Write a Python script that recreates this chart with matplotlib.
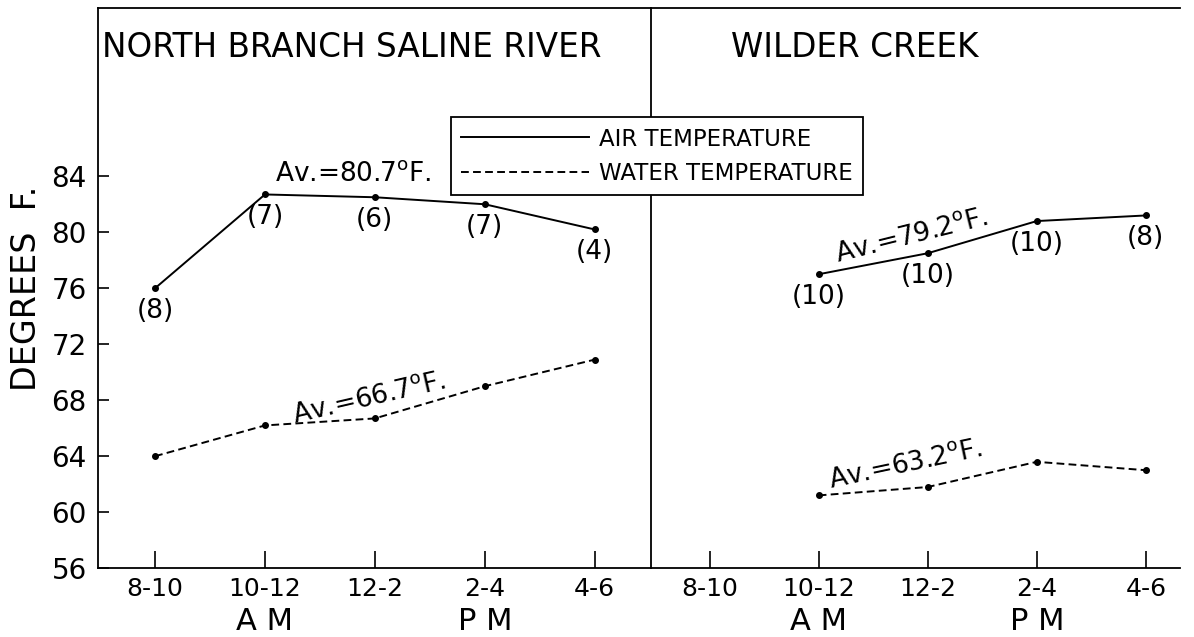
import matplotlib
matplotlib.use("Agg")
from matplotlib import pyplot as plt
from matplotlib.lines import Line2D

periods = ["8-10", "10-12", "12-2", "2-4", "4-6"]
halves = [(1, "A M"), (3, "P M")]

north_air = [76.0, 82.7, 82.5, 82.0, 80.2]
north_water = [64.0, 66.2, 66.7, 69.0, 70.9]
north_counts = ["(8)", "(7)", "(6)", "(7)", "(4)"]

wilder_x = [1, 2, 3, 4]
wilder_air = [77.0, 78.5, 80.8, 81.2]
wilder_water = [61.2, 61.8, 63.6, 63.0]
wilder_counts = ["(10)", "(10)", "(10)", "(8)"]

plt.rcParams['font.family'] = ['DejaVu Sans']
plt.rcParams['mathtext.default'] = 'regular'

fig = plt.figure(figsize=(11.94, 6.37), dpi=100)
ax1 = fig.add_axes([0.082, 0.108, 0.463, 0.879])
ax2 = fig.add_axes([0.545, 0.108, 0.443, 0.879])

water_style = dict(color="black", lw=1.4, ls=(0, (4, 2.2)), marker="o", ms=4)
air_style = dict(color="black", lw=1.4, ls="-", marker="o", ms=4)

ax1.plot(range(5), north_air, **air_style)
ax1.plot(range(5), north_water, **water_style)
ax2.plot(wilder_x, wilder_air, **air_style)
ax2.plot(wilder_x, wilder_water, **water_style)

# counts under the air points
for i, (v, c) in enumerate(zip(north_air, north_counts)):
    ax1.annotate(c, (i, v), xytext=(0, -7), textcoords="offset points",
                 ha="center", va="top", fontsize=19)
for x, v, c in zip(wilder_x, wilder_air, wilder_counts):
    ax2.annotate(c, (x, v), xytext=(0, -7), textcoords="offset points",
                 ha="center", va="top", fontsize=19)

deg = r"$^{o}$"
ax1.text(1.8, 83.2, "Av.=80.7" + deg + "F.", fontsize=19, ha="center", va="bottom")
ax1.text(1.95, 68.1, "Av.=66.7" + deg + "F.", fontsize=19, ha="center", va="center",
         rotation=13)
ax2.text(1.85, 79.7, "Av.=79.2" + deg + "F.", fontsize=19, ha="center", va="center",
         rotation=14)
ax2.text(1.8, 63.4, "Av.=63.2" + deg + "F.", fontsize=19, ha="center", va="center",
         rotation=12)

for ax in (ax1, ax2):
    ax.set_ylim(56, 96)
    ax.set_xticks(range(5))
    ax.set_xticklabels(periods, fontsize=18)
    ax.tick_params(axis="x", direction="in", length=12, width=1.2, pad=6)
    for s in ax.spines.values():
        s.set_linewidth(1.3)
    for x, t in halves:
        ax.text(x, -0.095, t, transform=ax.get_xaxis_transform(),
                fontsize=22, ha="center", va="center")

ax1.set_xlim(-0.52, 4.51)
ax2.set_xlim(-0.54, 4.31)

ax1.set_yticks(range(56, 88, 4))
ax1.tick_params(axis="y", direction="in", length=8, width=1.2, labelsize=20, pad=8)
ax1.set_ylabel("DEGREES  F.", fontsize=24, labelpad=6)
ax1.spines["right"].set_visible(False)

ax2.set_yticks([])
ax2.spines["right"].set_visible(False)

ax1.text(0.008, 0.93, "NORTH BRANCH SALINE RIVER", transform=ax1.transAxes,
         fontsize=23.5, ha="left", va="center")
ax2.text(0.385, 0.93, "WILDER CREEK", transform=ax2.transAxes,
         fontsize=23.5, ha="center", va="center")

handles = [Line2D([], [], color="black", lw=1.4),
           Line2D([], [], color="black", lw=1.4, ls=(0, (4, 2.2)))]
leg = fig.legend(handles, ["AIR TEMPERATURE", "WATER TEMPERATURE"],
                 loc="upper left", bbox_to_anchor=(0.368, 0.834),
                 fontsize=16.5, handlelength=5.6, frameon=True, fancybox=False,
                 edgecolor="black", framealpha=1, borderpad=0.45,
                 labelspacing=0.5, handletextpad=0.4)
leg.get_frame().set_linewidth(1.3)
leg.set_zorder(10)

fig.savefig("out.png", dpi=100)
